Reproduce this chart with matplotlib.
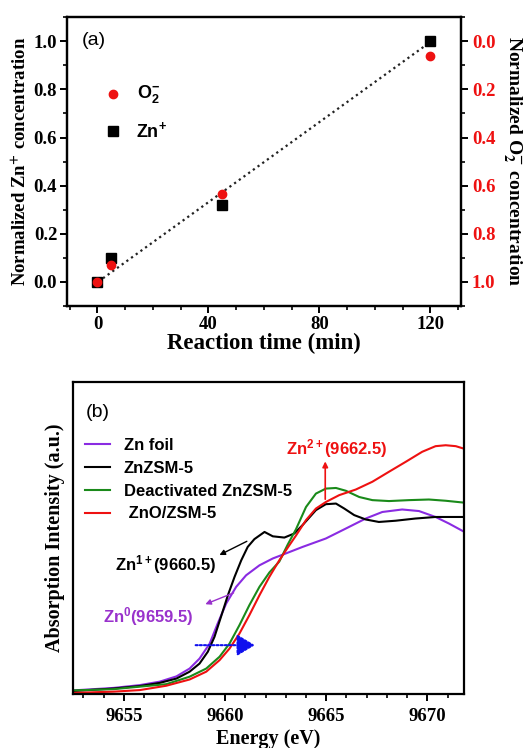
import numpy as np
import matplotlib
matplotlib.use("Agg")
from matplotlib import pyplot as plt

SERIF = "Liberation Serif"
SANS = "Liberation Sans"
plt.rcParams["mathtext.fontset"] = "custom"
plt.rcParams["mathtext.rm"] = SANS + ":bold"
plt.rcParams["mathtext.it"] = SANS + ":bold"
plt.rcParams["mathtext.bf"] = SANS + ":bold"

# ---- panel (a) data ----
time_min = [0, 5, 45, 120]
zn_plus = [0.0, 0.10, 0.32, 1.0]
o2_minus = [1.0, 0.93, 0.635, 0.06]  # on the inverted right axis
fit_x = [2, 118]
fit_y = [0.015, 0.98]

# ---- panel (b) data (traced XANES curves) ----
e_foil = [9652.5, 9653.5, 9654.5, 9655.79, 9656.77, 9657.6, 9658.25, 9658.74, 9659.24,
          9659.64, 9660.06, 9660.55, 9661.04, 9661.7, 9662.36, 9663.0, 9663.83, 9664.98,
          9665.97, 9666.95, 9667.77, 9668.75, 9669.58, 9670.4, 9671.06, 9671.8]
i_foil = [0.012, 0.016, 0.020, 0.029, 0.040, 0.057, 0.082, 0.114, 0.162,
          0.227, 0.291, 0.344, 0.381, 0.413, 0.435, 0.451, 0.472, 0.499,
          0.531, 0.563, 0.584, 0.592, 0.587, 0.568, 0.547, 0.521]

e_zsm = [9652.5, 9654.5, 9655.79, 9656.77, 9657.6, 9658.25, 9658.74, 9659.15, 9659.48,
         9659.8, 9660.14, 9660.47, 9660.8, 9661.12, 9661.45, 9661.95, 9662.36, 9662.93,
         9663.42, 9663.83, 9664.49, 9664.98, 9665.48, 9665.89, 9666.38, 9666.95, 9667.6,
         9668.43, 9669.4, 9670.4, 9671.8]
i_zsm = [0.010, 0.018, 0.026, 0.036, 0.050, 0.072, 0.098, 0.136, 0.184,
         0.248, 0.317, 0.376, 0.429, 0.472, 0.497, 0.520, 0.506, 0.502,
         0.515, 0.542, 0.590, 0.609, 0.611, 0.595, 0.574, 0.560, 0.552,
         0.556, 0.563, 0.568, 0.568]

e_deact = [9652.5, 9654.5, 9655.79, 9657.1, 9658.25, 9659.07, 9659.73, 9660.22, 9660.71,
           9661.2, 9661.7, 9662.19, 9662.68, 9663.1, 9663.5, 9664.0, 9664.49, 9664.98,
           9665.48, 9665.97, 9666.63, 9667.28, 9668.1, 9669.09, 9670.07, 9670.9, 9671.8]
i_deact = [0.012, 0.016, 0.024, 0.032, 0.056, 0.082, 0.120, 0.162, 0.221,
           0.285, 0.344, 0.390, 0.425, 0.480, 0.528, 0.600, 0.643, 0.659,
           0.661, 0.652, 0.632, 0.622, 0.619, 0.622, 0.624, 0.620, 0.614]

e_zno = [9652.5, 9654.5, 9655.79, 9657.1, 9658.25, 9659.07, 9659.73, 9660.22, 9660.71,
         9661.2, 9661.7, 9662.19, 9662.68, 9663.1, 9663.5, 9664.0, 9664.49, 9664.98,
         9665.64, 9666.46, 9667.28, 9668.1, 9668.93, 9669.74, 9670.4, 9670.9, 9671.4, 9671.8]
i_zno = [0.004, 0.008, 0.013, 0.027, 0.047, 0.072, 0.109, 0.146, 0.194,
         0.253, 0.317, 0.376, 0.429, 0.470, 0.508, 0.558, 0.595, 0.616,
         0.638, 0.656, 0.681, 0.713, 0.745, 0.777, 0.795, 0.798, 0.795, 0.787]

fig = plt.figure(figsize=(5.23, 7.48), dpi=100)

# ================= (a) =================
ax1 = fig.add_axes([0.128, 0.591, 0.753, 0.386])
ax1.plot(fit_x, fit_y, linestyle=(0, (1, 1.6)), color="#222222", lw=1.6, zorder=1)
ax1.plot(time_min, zn_plus, "s", color="black", ms=7, zorder=2)
ax1.set_xlim(-11, 131)
ax1.set_ylim(-0.1, 1.1)
ax1.set_xticks([0, 40, 80, 120])
ax1.set_xticks(np.arange(-10, 131, 10), minor=True)
ax1.set_yticks(np.arange(0, 1.01, 0.2))
ax1.set_yticks(np.arange(-0.1, 1.11, 0.1), minor=True)
ax1.set_yticklabels([f"{v:.1f}" for v in np.arange(0, 1.01, 0.2)])

ax2 = ax1.twinx()
ax2.plot(time_min, o2_minus, "o", color="#ee1111", ms=6, zorder=3)
ax2.set_ylim(1.1, -0.1)
ax2.set_yticks(np.arange(0, 1.01, 0.2))
ax2.set_yticks(np.arange(-0.1, 1.11, 0.1), minor=True)
ax2.set_yticklabels([f"{v:.1f}" for v in np.arange(0, 1.01, 0.2)])

for ax in (ax1, ax2):
    for s in ax.spines.values():
        s.set_linewidth(1.6)
    ax.tick_params(which="major", direction="out", length=5, width=1.4)
    ax.tick_params(which="minor", direction="out", length=3, width=1.2)
ax1.tick_params(axis="both", labelsize=13.5, pad=2)
ax2.tick_params(axis="y", labelsize=13.5, labelcolor="#ee1111", pad=3)
for lbl in ax1.get_xticklabels() + ax1.get_yticklabels() + ax2.get_yticklabels():
    lbl.set_family(SERIF)
    lbl.set_fontweight("bold")

ax1.set_xlabel("Reaction time (min)", family=SERIF, fontweight="bold", fontsize=16.5, labelpad=0)
ax1.set_ylabel(r"Normalized Zn$^{\mathbf{+}}$ concentration", family=SERIF, fontweight="bold",
               fontsize=13.5, labelpad=3, math_fontfamily="stix")
ax2.set_ylabel(r"Normalized O$_{\mathbf{2}}^{\mathbf{-}}$ concentration", family=SERIF,
               fontweight="bold", fontsize=14, rotation=270, va="bottom", labelpad=4,
               math_fontfamily="stix")

ax1.text(0.038, 0.92, "(a)", transform=ax1.transAxes, family=SANS, fontsize=14, va="center")
ax1.plot([0.118], [0.735], "o", color="#ee1111", ms=6, transform=ax1.transAxes, clip_on=False)
ax1.text(0.178, 0.735, "O$_{2}^{-}$", transform=ax1.transAxes, family=SANS, fontweight="bold",
         fontsize=13, va="center")
ax1.plot([0.118], [0.605], "s", color="black", ms=6.5, transform=ax1.transAxes, clip_on=False)
ax1.text(0.175, 0.605, "Zn$^{+}$", transform=ax1.transAxes, family=SANS, fontweight="bold",
         fontsize=13, va="center")

# ================= (b) =================
ax3 = fig.add_axes([0.140, 0.072, 0.747, 0.417])
ax3.plot(e_foil, i_foil, color="#8a2be2", lw=1.5, label="Zn foil")
ax3.plot(e_zsm, i_zsm, color="black", lw=1.5, label="ZnZSM-5")
ax3.plot(e_deact, i_deact, color="#1a8a1a", lw=1.5, label="Deactivated ZnZSM-5")
ax3.plot(e_zno, i_zno, color="#ee1111", lw=1.5, label=" ZnO/ZSM-5")
ax3.set_xlim(9652.5, 9671.8)
ax3.set_ylim(0, 1.0)
ax3.set_yticks([])
ax3.set_xticks([9655, 9660, 9665, 9670])
ax3.set_xticks(np.arange(9653, 9672, 1), minor=True)
for s in ax3.spines.values():
    s.set_linewidth(1.6)
ax3.tick_params(which="major", direction="out", length=5, width=1.4, labelsize=13.5, pad=5)
ax3.tick_params(which="minor", direction="out", length=3, width=1.2)
for lbl in ax3.get_xticklabels():
    lbl.set_family(SERIF)
    lbl.set_fontweight("bold")
ax3.set_xlabel("Energy (eV)", family=SERIF, fontweight="bold", fontsize=14.5, labelpad=3)
ax3.set_ylabel("Absorption Intensity (a.u.)", family=SERIF, fontweight="bold", fontsize=14.5, labelpad=6)

ax3.text(0.031, 0.904, "(b)", transform=ax3.transAxes, family=SANS, fontsize=14, va="center")
leg = ax3.legend(loc="center left", bbox_to_anchor=(0.031, 0.6875), frameon=False, handlelength=1.5,
                 handletextpad=0.8, labelspacing=0.47, borderaxespad=0, borderpad=0,
                 prop={"family": SANS, "weight": "bold", "size": 12})

ax3.annotate("", xy=(9664.95, 0.755), xytext=(9664.95, 0.616),
             arrowprops=dict(arrowstyle="-|>", color="#ee1111", lw=1.2, mutation_scale=8))
ax3.text(9663.03, 0.787, "Zn$^{2+}$(9662.5)", color="#ee1111", family=SANS, fontweight="bold",
         fontsize=12, va="center")
ax3.annotate("", xy=(9659.6, 0.442), xytext=(9661.2, 0.494),
             arrowprops=dict(arrowstyle="-|>", color="black", lw=1.0, mutation_scale=8))
ax3.text(9654.56, 0.414, "Zn$^{1+}$(9660.5)", color="black", family=SANS, fontweight="bold",
         fontsize=12, va="center")
ax3.annotate("", xy=(9658.9, 0.285), xytext=(9660.55, 0.328),
             arrowprops=dict(arrowstyle="-|>", color="#9932cc", lw=1.0, mutation_scale=8))
ax3.text(9653.98, 0.248, "Zn$^{0}$(9659.5)", color="#9932cc", family=SANS, fontweight="bold",
         fontsize=12, va="center")
ax3.annotate("", xy=(9661.61, 0.157), xytext=(9658.41, 0.157),
             arrowprops=dict(arrowstyle="-|>,head_length=0.5,head_width=0.3", color="#1010ee", lw=1.5,
                             linestyle=(0, (1, 1)), mutation_scale=22))

fig.savefig("out.png", dpi=100)
